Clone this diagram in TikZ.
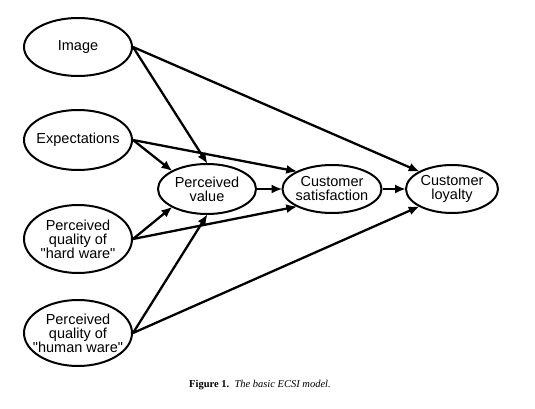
\documentclass[tikz,border=0pt]{standalone}
\usepackage{fontspec}
\setmainfont{Liberation Sans}
\newfontfamily\capfont{Liberation Serif}
\usetikzlibrary{arrows.meta,positioning,shapes.geometric}

\begin{document}
\begin{tikzpicture}[x=1pt,y=-1pt,>={Latex[length=11pt,width=9pt]}]
  \tikzstyle{construct}=[draw,ellipse,line width=2pt,align=center,inner xsep=-25pt,inner ysep=-12pt,
    font=\fontsize{14.5}{14}\selectfont]
  \tikzstyle{path}=[->,line width=2.3pt,shorten >=-1pt]
  \useasboundingbox (0,0) rectangle (535,409);
  % exogenous constructs
  \node[construct,minimum width=108pt,minimum height=58pt] (image) at (78,47) {Image};
  \node[construct,minimum width=108pt,minimum height=60pt] (expect) at (78,140) {Expectations};
  \node[construct,minimum width=108pt,minimum height=68pt] (hard) at (78,239) {Perceived\\quality of\\\textquotedbl hard ware\textquotedbl};
  \node[construct,minimum width=108pt,minimum height=66pt] (human) at (78,333) {Perceived\\quality of\\\textquotedbl human ware\textquotedbl};
  % endogenous constructs
  \node[construct,minimum width=98pt,minimum height=50pt] (value) at (207,189) {Perceived\\value};
  \node[construct,minimum width=99pt,minimum height=48pt] (satis) at (332,189) {Customer\\satisfaction};
  \node[construct,minimum width=92pt,minimum height=48pt] (loyal) at (452,189) {Customer\\loyalty};
  % paths
  \draw[path] (image.east) -- (value.north);
  \draw[path] (image.east) -- (loyal.north west);
  \draw[path] (expect.east) -- (value.north west);
  \draw[path] (expect.east) -- (satis.north west);
  \draw[path] (hard.east) -- (value.south west);
  \draw[path] (hard.east) -- (satis.south west);
  \draw[path] (human.east) -- (value.south);
  \draw[path] (human.east) -- (loyal.south west);
  \draw[path] (value) -- (satis);
  \draw[path] (satis) -- (loyal);
  \node[font=\capfont\fontsize{10.5}{12}\selectfont] (caption) at (260,385) {\textbf{Figure 1.}\ \ \textit{The basic ECSI model.}};
\end{tikzpicture}
\end{document}
